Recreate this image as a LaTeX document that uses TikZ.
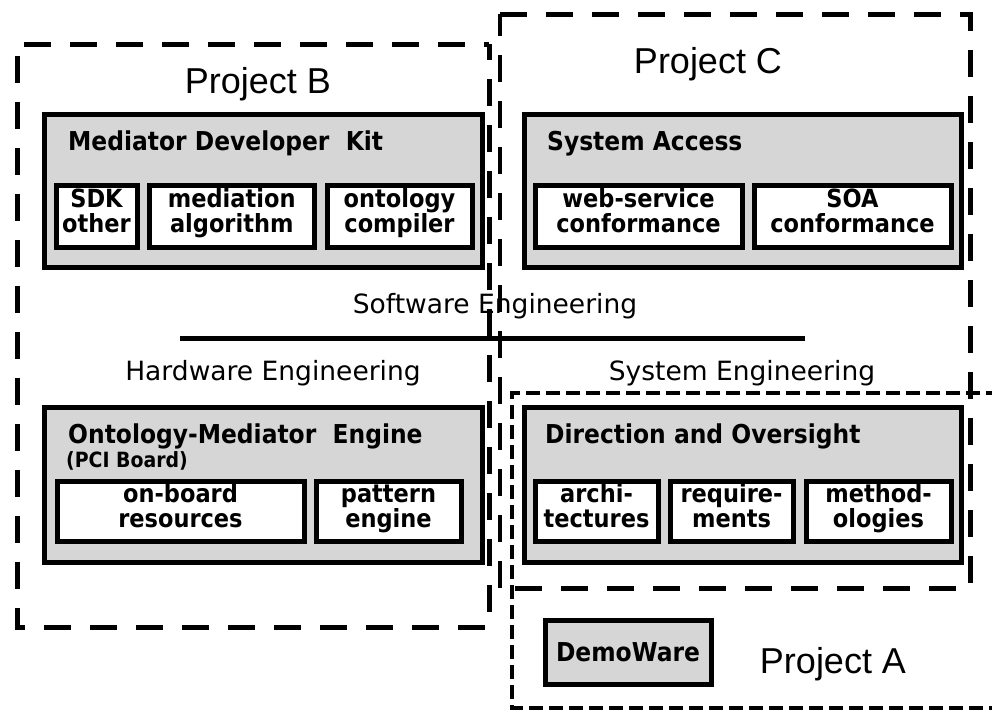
\documentclass[tikz,border=0pt]{standalone}
\usepackage{fontspec}
\setmainfont{DejaVu Sans}
\newfontfamily\condfont{DejaVu Sans}[FakeStretch=0.9]
\newfontfamily\projfont{Liberation Sans}
\definecolor{panelgray}{RGB}{214,214,214}
\tikzset{
  regionline/.style={line width=5pt, dash pattern=on 27pt off 19pt},
  regionfine/.style={line width=4pt, dash pattern=on 14pt off 6pt},
  mainpanel/.style={draw, line width=5pt, fill=panelgray, outer sep=0pt, inner sep=0pt},
  subpart/.style={draw, line width=5pt, fill=white, outer sep=0pt, inner sep=0pt,
    align=center, minimum width=#1, text width=#1, text height=13pt, text depth=31pt,
    font=\condfont\bfseries\fontsize{25}{25}\selectfont},
  paneltitle/.style={anchor=base west, inner sep=0pt,
    font=\condfont\bfseries\fontsize{26}{28}\selectfont},
  projlabel/.style={anchor=base, inner sep=0pt, font=\projfont\fontsize{36}{40}\selectfont},
  englabel/.style={anchor=base, inner sep=0pt, font=\fontsize{26.5}{28}\selectfont},
}
\begin{document}
\begin{tikzpicture}[x=1pt, y=-1pt]
\useasboundingbox (0,0) rectangle (992,713);
\fill[white] (0,0) rectangle (992,713);
\clip (0,0) rectangle (992,713);

% --- Mediator Developer Kit ---
\node[mainpanel, minimum width=438pt, minimum height=153pt] (mdk) at (263,190.5) {};
\node[paneltitle] (mdkT) at (68,150) {Mediator Developer~~Kit};
\node[subpart=81pt, minimum height=61.5pt] (sdk) at (96.5,216.25) {SDK\\other};
\node[subpart=164.5pt, minimum height=61.5pt] (medalg) at (231.75,216.25) {mediation\\algorithm};
\node[subpart=145pt, minimum height=61.5pt] (ontcomp) at (399.5,216.25) {ontology\\compiler};

% --- System Access ---
\node[mainpanel, minimum width=437pt, minimum height=153pt] (sysacc) at (742.5,190.5) {};
\node[paneltitle] (sysaccT) at (547,150) {System Access};
\node[subpart=207pt, minimum height=61.5pt] (wsconf) at (638.5,216.25) {web-service\\conformance};
\node[subpart=197pt, minimum height=61.5pt] (soaconf) at (852.5,216.25) {SOA\\conformance};

% --- Ontology-Mediator Engine ---
\node[mainpanel, minimum width=438pt, minimum height=155pt] (ome) at (263,485) {};
\node[paneltitle] (omeT) at (68,443) {Ontology-Mediator~~Engine};
\node[paneltitle, font=\condfont\bfseries\fontsize{21}{22}\selectfont] (omeS) at (66,467) {(PCI Board)};
\node[subpart=247pt, minimum height=60pt] (onboard) at (180.5,511) {on-board\\resources};
\node[subpart=145pt, minimum height=60pt] (pattern) at (388.5,511) {pattern\\engine};

% --- Direction and Oversight ---
\node[mainpanel, minimum width=437pt, minimum height=155pt] (dao) at (742.5,485) {};
\node[paneltitle] (daoT) at (545,443) {Direction and Oversight};
\node[subpart=123pt, minimum height=60pt] (arch) at (596.5,511) {archi-\\tectures};
\node[subpart=123pt, minimum height=60pt] (reqs) at (731.5,511) {require-\\ments};
\node[subpart=145pt, minimum height=60pt] (meth) at (878.5,511) {method-\\ologies};

% --- DemoWare ---
\node[mainpanel, minimum width=166pt, minimum height=64pt,
      font=\condfont\bfseries\fontsize{26}{28}\selectfont] (demo) at (628,652) {DemoWare};

% --- engineering divisions ---
\node[englabel] (swE) at (495,313) {Software Engineering};
\node[englabel] (hwE) at (273,380) {Hardware Engineering};
\node[englabel] (syE) at (742,380) {System Engineering};
\coordinate (divL) at (180,338);
\coordinate (divR) at (805,338);
\draw[line width=5pt] (divL) -- (divR);

% --- project labels ---
\node[projlabel] (projB) at (258,93) {Project B};
\node[projlabel] (projC) at (708,73) {Project C};
\node[projlabel] (projA) at (833,673) {Project A};

% --- project regions ---
\draw[regionline, dash phase=22pt] (489,44) -- (17,44) -- (17,627) -- (489,627) -- cycle;
\draw[regionline] (500,14) -- (970,14) -- (970,588) -- (500,588);
\draw[regionline, line width=3.5pt] (500,588) -- (500,14);
\draw[regionfine] (1000,393) -- (512,393) -- (512,708) -- (1000,708);
\end{tikzpicture}
\end{document}
